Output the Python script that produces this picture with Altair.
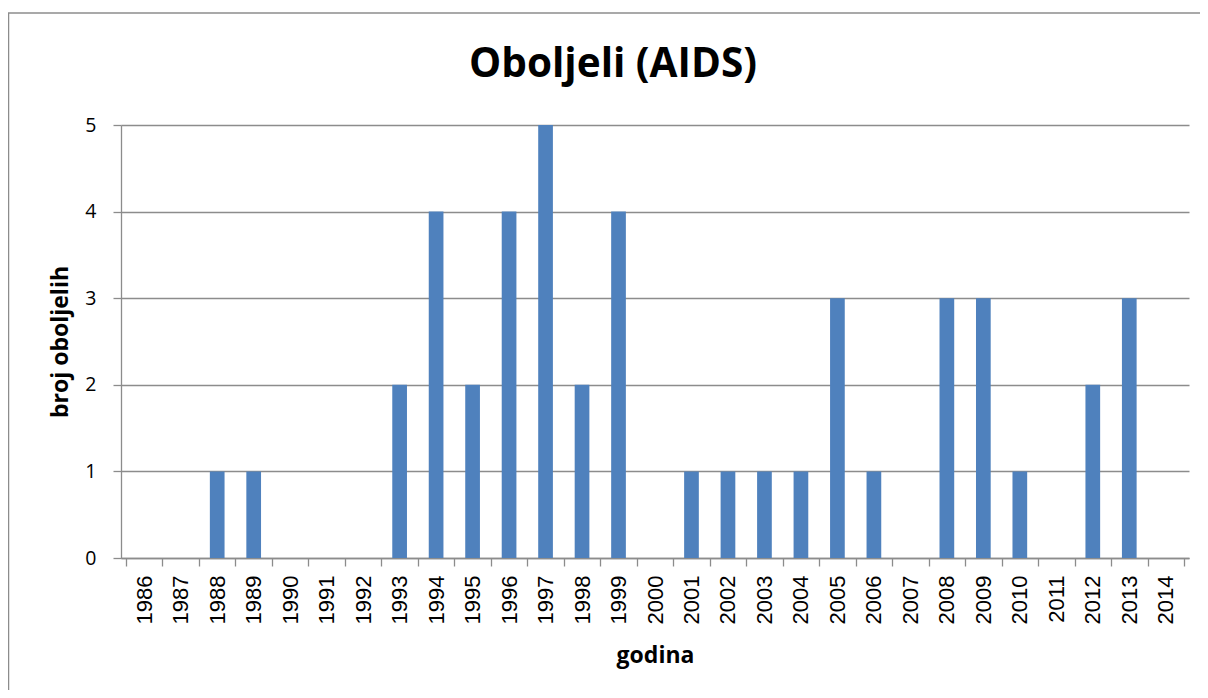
import altair as alt
import pandas as pd

years = [1986, 1987, 1988, 1989, 1990, 1991, 1992, 1993, 1994, 1995,
         1996, 1997, 1998, 1999, 2000, 2001, 2002, 2003, 2004, 2005,
         2006, 2007, 2008, 2009, 2010, 2011, 2012, 2013, 2014]
counts = [0, 0, 1, 1, 0, 0, 0, 2, 4, 2,
          4, 5, 2, 4, 0, 1, 1, 1, 1, 3,
          1, 0, 3, 3, 1, 0, 2, 3, 0]
y_ticks = [0, 1, 2, 3, 4, 5]

title_text = "Oboljeli (AIDS)"
x_title = "godina"
y_title = "broj oboljelih"

df = pd.DataFrame({"godina": years, "broj": counts})
edges = [y - 0.5 for y in years] + [years[-1] + 0.5]

W, H = 1068, 433
PAD = {"left": 113, "top": 117, "right": 11, "bottom": 132}
GRAY = "#8c8c8c"
BAR = "#4f81bd"

xscale = alt.Scale(domain=[years[0] - 0.5, years[-1] + 0.5], nice=False, zero=False)
yscale = alt.Scale(domain=[0, 5], nice=False)

y_axis = alt.Axis(values=y_ticks, title=y_title, grid=True, gridColor=GRAY,
                  gridWidth=1.3, domainColor=GRAY, domainWidth=1.3,
                  tickColor=GRAY, tickWidth=1.3, tickSize=8, labelPadding=17,
                  labelFont="Open Sans", labelFontSize=19.5, labelColor="#000000",
                  titleFont="Open Sans", titleFontSize=23, titleFontWeight="bold",
                  titleColor="#000000", titleAngle=-90, titleX=-61, titleY=H / 2,
                  titleBaseline="middle", titleAlign="center", orient="left")

one = pd.DataFrame({"t": [title_text]})

border_left = alt.Chart(one).mark_rule(stroke=GRAY, strokeWidth=1.5).encode(
    x=alt.value(-112.5), y=alt.value(-112), y2=alt.value(H + PAD["bottom"])
)
border_top = alt.Chart(one).mark_rule(stroke=GRAY, strokeWidth=1.5).encode(
    x=alt.value(-113), x2=alt.value(W + PAD["right"]), y=alt.value(-112)
)

title_mark = alt.Chart(one).mark_text(
    font="Open Sans", fontSize=40.5, fontWeight="bold", color="#000000",
    align="center", baseline="alphabetic"
).encode(x=alt.value(492), y=alt.value(-48), text="t:N")

ticks_axis = alt.Chart(df).mark_bar(size=0, opacity=0).encode(
    x=alt.X("godina:Q", scale=xscale,
            axis=alt.Axis(values=edges, labels=False, title=None, grid=False,
                          domainColor=GRAY, domainWidth=1.3, tickColor=GRAY,
                          tickWidth=1.3, tickSize=8, orient="bottom")),
    y=alt.Y("broj:Q", scale=yscale, axis=y_axis)
)

bars = alt.Chart(df).mark_bar(size=14.7, color=BAR).encode(
    x=alt.X("godina:Q", scale=xscale,
            axis=alt.Axis(values=years, format="d", title=x_title, orient="bottom",
                          labelAngle=-90, labelAlign="right", labelBaseline="middle",
                          labelPadding=17, labelFont="Liberation Sans", labelFontSize=22,
                          labelColor="#000000", ticks=False, domain=False, grid=False,
                          labelOverlap=False, labelFlush=False,
                          titleFont="Open Sans", titleFontSize=23, titleFontWeight="bold",
                          titleColor="#000000", titleX=W / 2, titleY=104,
                          titleBaseline="alphabetic", titleAlign="center")),
    y=alt.Y("broj:Q", scale=yscale, axis=y_axis)
)

chart = alt.layer(border_left, border_top, title_mark, ticks_axis, bars).resolve_axis(
    x="independent"
).properties(
    width=W, height=H,
    padding=PAD,
    autosize=alt.AutoSizeParams(type="none"),
).configure_view(stroke="transparent")

chart.save("out.html", embed_options={"renderer": "svg", "actions": False})
